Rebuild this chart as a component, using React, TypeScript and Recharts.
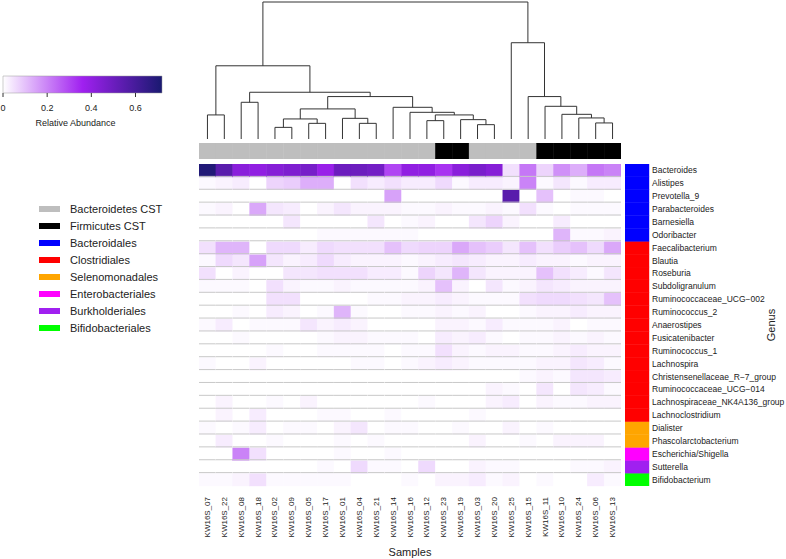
import { Bar, BarChart, Line, LineChart, XAxis, YAxis } from 'recharts';

const samples = [
  'KW16S_07', 'KW16S_22', 'KW16S_08', 'KW16S_18', 'KW16S_02', 'KW16S_09', 'KW16S_05', 'KW16S_17', 'KW16S_01',
  'KW16S_04', 'KW16S_21', 'KW16S_14', 'KW16S_16', 'KW16S_12', 'KW16S_23', 'KW16S_19', 'KW16S_03', 'KW16S_20',
  'KW16S_25', 'KW16S_15', 'KW16S_11', 'KW16S_10', 'KW16S_24', 'KW16S_06', 'KW16S_13',
];

const B = 'Bacteroidetes CST';
const F = 'Firmicutes CST';
const sampleCst = [B, B, B, B, B, B, B, B, B, B, B, B, B, B, F, F, B, B, B, B, F, F, F, F, F];

const genera = [
  'Bacteroides', 'Alistipes', 'Prevotella_9', 'Parabacteroides', 'Barnesiella', 'Odoribacter',
  'Faecalibacterium', 'Blautia', 'Roseburia', 'Subdoligranulum', 'Ruminococcaceae_UCG\u2212002',
  'Ruminococcus_2', 'Anaerostipes', 'Fusicatenibacter', 'Ruminococcus_1', 'Lachnospira',
  'Christensenellaceae_R\u22127_group', 'Ruminococcaceae_UCG\u2212014', 'Lachnospiraceae_NK4A136_group',
  'Lachnoclostridium', 'Dialister', 'Phascolarctobacterium', 'Escherichia/Shigella', 'Sutterella', 'Bifidobacterium',
];

const genusOrder = [
  'Bacteroidales', 'Bacteroidales', 'Bacteroidales', 'Bacteroidales', 'Bacteroidales', 'Bacteroidales',
  'Clostridiales', 'Clostridiales', 'Clostridiales', 'Clostridiales', 'Clostridiales', 'Clostridiales',
  'Clostridiales', 'Clostridiales', 'Clostridiales', 'Clostridiales', 'Clostridiales', 'Clostridiales',
  'Clostridiales', 'Clostridiales', 'Selenomonadales', 'Selenomonadales', 'Enterobacteriales',
  'Burkholderiales', 'Bifidobacteriales',
];

const legendLabels = [
  'Bacteroidetes CST', 'Firmicutes CST', 'Bacteroidales', 'Clostridiales', 'Selenomonadales',
  'Enterobacteriales', 'Burkholderiales', 'Bifidobacteriales',
];
const legendColors = ['#bebebe', '#000000', '#0000ff', '#ff0000', '#ffa500', '#ff00ff', '#a020f0', '#00ff00'];

// relative abundance, one row per genus, columns in sample order
const abundance: number[][] = [
  [0.70, 0.55, 0.42, 0.40, 0.43, 0.45, 0.47, 0.38, 0.50, 0.50, 0.48, 0.30, 0.40, 0.40, 0.33, 0.42, 0.46, 0.43, 0.05, 0.22, 0.07, 0.18, 0.13, 0.22, 0.20],
  [0.01, 0.02, 0.03, 0.00, 0.07, 0.08, 0.13, 0.13, 0.00, 0.05, 0.03, 0.05, 0.03, 0.03, 0.06, 0.01, 0.03, 0.03, 0.02, 0.20, 0.01, 0.04, 0.01, 0.03, 0.03],
  [0.00, 0.00, 0.00, 0.00, 0.00, 0.00, 0.00, 0.00, 0.00, 0.00, 0.00, 0.15, 0.00, 0.00, 0.00, 0.00, 0.00, 0.00, 0.55, 0.00, 0.10, 0.00, 0.01, 0.01, 0.00],
  [0.01, 0.02, 0.00, 0.14, 0.04, 0.03, 0.00, 0.02, 0.04, 0.02, 0.02, 0.02, 0.01, 0.01, 0.02, 0.01, 0.01, 0.02, 0.01, 0.05, 0.01, 0.00, 0.01, 0.01, 0.01],
  [0.00, 0.00, 0.00, 0.00, 0.00, 0.04, 0.00, 0.00, 0.00, 0.00, 0.04, 0.00, 0.01, 0.02, 0.00, 0.00, 0.04, 0.07, 0.02, 0.00, 0.00, 0.03, 0.00, 0.00, 0.00],
  [0.00, 0.00, 0.00, 0.00, 0.00, 0.00, 0.00, 0.01, 0.01, 0.01, 0.01, 0.01, 0.01, 0.00, 0.00, 0.00, 0.00, 0.00, 0.00, 0.00, 0.00, 0.12, 0.01, 0.01, 0.02],
  [0.05, 0.12, 0.12, 0.00, 0.06, 0.06, 0.03, 0.06, 0.05, 0.05, 0.05, 0.10, 0.06, 0.07, 0.07, 0.14, 0.10, 0.08, 0.04, 0.10, 0.05, 0.08, 0.10, 0.06, 0.14],
  [0.01, 0.06, 0.04, 0.15, 0.04, 0.02, 0.03, 0.06, 0.03, 0.02, 0.02, 0.02, 0.01, 0.02, 0.03, 0.04, 0.03, 0.02, 0.02, 0.03, 0.02, 0.02, 0.01, 0.02, 0.02],
  [0.05, 0.00, 0.02, 0.00, 0.00, 0.04, 0.04, 0.05, 0.05, 0.05, 0.03, 0.03, 0.01, 0.07, 0.04, 0.12, 0.04, 0.02, 0.02, 0.02, 0.10, 0.05, 0.03, 0.01, 0.04],
  [0.01, 0.01, 0.01, 0.00, 0.05, 0.02, 0.01, 0.01, 0.02, 0.01, 0.01, 0.01, 0.01, 0.02, 0.10, 0.02, 0.00, 0.04, 0.01, 0.02, 0.04, 0.03, 0.02, 0.02, 0.02],
  [0.00, 0.00, 0.00, 0.00, 0.05, 0.05, 0.00, 0.00, 0.00, 0.00, 0.01, 0.01, 0.02, 0.02, 0.03, 0.02, 0.01, 0.01, 0.01, 0.05, 0.06, 0.06, 0.05, 0.04, 0.10],
  [0.00, 0.00, 0.01, 0.00, 0.03, 0.02, 0.00, 0.01, 0.12, 0.01, 0.00, 0.00, 0.01, 0.01, 0.02, 0.01, 0.02, 0.00, 0.00, 0.01, 0.02, 0.02, 0.03, 0.02, 0.02],
  [0.01, 0.03, 0.00, 0.01, 0.01, 0.01, 0.04, 0.02, 0.03, 0.02, 0.00, 0.00, 0.00, 0.00, 0.02, 0.02, 0.01, 0.03, 0.01, 0.01, 0.01, 0.02, 0.00, 0.01, 0.01],
  [0.00, 0.00, 0.01, 0.00, 0.00, 0.00, 0.00, 0.01, 0.02, 0.02, 0.01, 0.01, 0.01, 0.00, 0.03, 0.02, 0.03, 0.01, 0.00, 0.01, 0.01, 0.02, 0.01, 0.02, 0.01],
  [0.00, 0.00, 0.00, 0.00, 0.01, 0.00, 0.00, 0.01, 0.01, 0.01, 0.01, 0.00, 0.01, 0.01, 0.05, 0.02, 0.01, 0.02, 0.02, 0.01, 0.01, 0.02, 0.03, 0.02, 0.02],
  [0.01, 0.00, 0.00, 0.02, 0.00, 0.00, 0.00, 0.00, 0.00, 0.01, 0.01, 0.00, 0.01, 0.02, 0.03, 0.02, 0.01, 0.01, 0.01, 0.01, 0.02, 0.02, 0.04, 0.03, 0.01],
  [0.00, 0.00, 0.00, 0.00, 0.00, 0.00, 0.00, 0.00, 0.00, 0.00, 0.00, 0.00, 0.00, 0.00, 0.00, 0.00, 0.00, 0.00, 0.00, 0.01, 0.02, 0.01, 0.04, 0.04, 0.03],
  [0.00, 0.00, 0.00, 0.00, 0.00, 0.00, 0.00, 0.00, 0.00, 0.00, 0.00, 0.00, 0.00, 0.00, 0.00, 0.00, 0.00, 0.02, 0.01, 0.00, 0.04, 0.00, 0.04, 0.03, 0.01],
  [0.00, 0.02, 0.00, 0.00, 0.01, 0.00, 0.02, 0.00, 0.00, 0.00, 0.00, 0.00, 0.00, 0.01, 0.00, 0.00, 0.00, 0.02, 0.03, 0.00, 0.02, 0.01, 0.01, 0.02, 0.02],
  [0.00, 0.02, 0.00, 0.03, 0.00, 0.00, 0.00, 0.01, 0.01, 0.00, 0.00, 0.01, 0.00, 0.00, 0.00, 0.00, 0.01, 0.00, 0.00, 0.00, 0.00, 0.00, 0.00, 0.00, 0.00],
  [0.01, 0.00, 0.01, 0.03, 0.00, 0.01, 0.01, 0.00, 0.02, 0.04, 0.00, 0.01, 0.01, 0.00, 0.00, 0.01, 0.00, 0.00, 0.02, 0.00, 0.01, 0.00, 0.00, 0.00, 0.00],
  [0.00, 0.03, 0.00, 0.00, 0.01, 0.00, 0.00, 0.00, 0.01, 0.00, 0.01, 0.00, 0.00, 0.00, 0.00, 0.00, 0.02, 0.00, 0.00, 0.01, 0.00, 0.02, 0.02, 0.02, 0.00],
  [0.00, 0.00, 0.20, 0.05, 0.00, 0.00, 0.00, 0.00, 0.01, 0.00, 0.00, 0.01, 0.00, 0.00, 0.00, 0.00, 0.00, 0.00, 0.00, 0.00, 0.00, 0.00, 0.00, 0.00, 0.00],
  [0.00, 0.00, 0.00, 0.00, 0.00, 0.00, 0.00, 0.01, 0.00, 0.06, 0.01, 0.01, 0.00, 0.06, 0.00, 0.00, 0.02, 0.01, 0.01, 0.00, 0.00, 0.00, 0.01, 0.01, 0.02],
  [0.01, 0.01, 0.02, 0.05, 0.01, 0.01, 0.01, 0.01, 0.01, 0.00, 0.00, 0.00, 0.01, 0.00, 0.02, 0.02, 0.03, 0.01, 0.02, 0.00, 0.01, 0.00, 0.00, 0.03, 0.01],
];

// hclust-style merges: negative = leaf (column), positive = earlier merge (1-based), then height
const merges: [number, number, number][] = [
  [-5, -6, 11.6], [-17, -18, 14.3], [-7, -8, 15.6], [-10, -11, 15.6], [-24, -25, 16],
  [-14, -15, 18.3], [-16, 2, 19.3], [1, 3, 20], [-9, 4, 20.6], [-23, 5, 21],
  [-1, -2, 24], [6, 7, 24], [-22, 10, 24.6], [-13, 12, 26.6], [8, 9, 30],
  [-12, 14, 31.6], [-21, 13, 32.6], [-3, -4, 36.6], [15, 16, 42.3], [-20, 17, 42.3],
  [18, 19, 46.6], [11, 21, 73], [-19, 20, 96], [22, 23, 136.6],
];

const keyMax = 0.72;
const keyTicks = [0, 0.2, 0.4, 0.6];

const W = '#ffffff';
const PURPLE = [160, 32, 240];
const NAVY = [25, 25, 112];

function mix(a: number[], b: number[], t: number) {
  const c = a.map((v, k) => Math.round(v + (b[k] - v) * t));
  return `rgb(${c[0]},${c[1]},${c[2]})`;
}

function heatColor(v: number) {
  const t = Math.max(0, Math.min(1, v / keyMax));
  if (t < 0.5) return mix([255, 255, 255], PURPLE, t / 0.5);
  return mix(PURPLE, NAVY, (t - 0.5) / 0.5);
}

function cstColor(c: string) {
  return legendColors[legendLabels.indexOf(c)];
}

function buildLinks() {
  const pos: { x: number; h: number }[] = [];
  return merges.map(([a, b, h], k) => {
    const node = (ref: number) => (ref < 0 ? { x: -ref - 1, h: 0 } : pos[ref - 1]);
    const l = node(a);
    const r = node(b);
    pos[k] = { x: (l.x + r.x) / 2, h };
    return [
      { x: l.x, h: l.h },
      { x: l.x, h },
      { x: r.x, h },
      { x: r.x, h: r.h },
    ];
  });
}

const font = 'Liberation Sans, Arial, sans-serif';

function HeatCell(props: any) {
  const { x, y, width, height, fill, sep } = props;
  return (
    <g>
      <rect x={x} y={y} width={width} height={height} fill={fill} stroke={fill} strokeWidth={0.4} />
      {sep && <line x1={x} x2={x + width} y1={y + height - 0.5} y2={y + height - 0.5} stroke="#c8c8c8" strokeWidth={1} />}
    </g>
  );
}

function SampleTick(props: any) {
  const { x, y, payload } = props;
  const ty = y + 11;
  return (
    <text x={x} y={ty} transform={`rotate(-90, ${x}, ${ty})`} textAnchor="end" dominantBaseline="central" fontSize={8} fill="#222">
      {payload.value}
    </text>
  );
}

function GenusTick(props: any) {
  const { x, y, payload } = props;
  const name = genera[genera.length - 1 - Math.floor(payload.value)];
  return (
    <text x={x + 3} y={y} dominantBaseline="central" fontSize={8.5} fill="#222">
      {name}
    </text>
  );
}

export default function App() {
  const links = buildLinks();
  const bottomUp = genera.map((_, i) => i).reverse();

  const heatData = samples.map((s, j) => {
    const row: any = { sample: s, cst: sampleCst[j] };
    genera.forEach((_, i) => {
      row[`r${i}`] = 1;
      row[`v${i}`] = abundance[i][j];
    });
    return row;
  });

  const sideRow: any = { k: 'order' };
  genera.forEach((_, i) => (sideRow[`r${i}`] = 1));

  return (
    <div style={{ position: 'absolute', left: 0, top: 0, width: 786, height: 559, background: W, fontFamily: font }}>
      {/* dendrogram */}
      <div style={{ position: 'absolute', left: 199, top: 0 }}>
        <LineChart width={422} height={139} margin={{ top: 2, right: 0, left: 0, bottom: 0 }}>
          <XAxis type="number" dataKey="x" domain={[-0.5, 24.5]} hide />
          <YAxis type="number" domain={[0, 136.6]} hide />
          {links.map((pts, k) => (
            <Line key={k} data={pts} dataKey="h" type="linear" stroke="#333" strokeWidth={1} dot={false} isAnimationActive={false} />
          ))}
        </LineChart>
      </div>

      {/* CST bar */}
      <div style={{ position: 'absolute', left: 199, top: 143 }}>
        <BarChart width={422} height={16} data={heatData} margin={{ top: 0, right: 0, left: 0, bottom: 0 }} barCategoryGap={0}>
          <XAxis dataKey="sample" hide />
          <YAxis type="number" domain={[0, 1]} hide />
          <Bar
            dataKey="r0"
            isAnimationActive={false}
            shape={(p: any) => <HeatCell {...p} fill={cstColor(p.payload.cst)} sep={false} />}
          />
        </BarChart>
      </div>

      {/* heatmap */}
      <div style={{ position: 'absolute', left: 199, top: 164 }}>
        <BarChart width={422} height={395} data={heatData} margin={{ top: 0, right: 0, left: 0, bottom: 0 }} barCategoryGap={0}>
          <XAxis
            dataKey="sample"
            height={73}
            interval={0}
            tickLine={false}
            axisLine={false}
            tickSize={0}
            tickMargin={0}
            tick={<SampleTick />}
            label={{ value: 'Samples', position: 'insideBottom', offset: 3, fontSize: 11, fill: '#222' }}
          />
          <YAxis type="number" domain={[0, genera.length]} hide />
          {bottomUp.map((i) => (
            <Bar
              key={i}
              dataKey={`r${i}`}
              stackId="h"
              isAnimationActive={false}
              shape={(p: any) => <HeatCell {...p} fill={heatColor(p.payload[`v${i}`])} sep={i < genera.length - 1} />}
            />
          ))}
        </BarChart>
      </div>

      {/* order side bar with genus labels */}
      <div style={{ position: 'absolute', left: 625, top: 164 }}>
        <BarChart width={161} height={322} data={[sideRow]} margin={{ top: 0, right: 0, left: 0, bottom: 0 }} barCategoryGap={0}>
          <XAxis dataKey="k" hide />
          <YAxis
            type="number"
            orientation="right"
            domain={[0, genera.length]}
            ticks={genera.map((_, i) => i + 0.5)}
            interval={0}
            width={137}
            axisLine={false}
            tickLine={false}
            tickSize={0}
            tickMargin={0}
            tick={<GenusTick />}
          />
          {bottomUp.map((i) => (
            <Bar
              key={i}
              dataKey={`r${i}`}
              stackId="s"
              isAnimationActive={false}
              shape={(p: any) => <HeatCell {...p} fill={legendColors[legendLabels.indexOf(genusOrder[i])]} sep={false} />}
            />
          ))}
        </BarChart>
      </div>
      <div
        style={{
          position: 'absolute',
          left: 771,
          top: 325,
          transform: 'translate(-50%, -50%) rotate(-90deg)',
          fontSize: 11,
          color: '#222',
          whiteSpace: 'nowrap',
        }}
      >
        Genus
      </div>

      {/* colour key */}
      <div style={{ position: 'absolute', left: 0, top: 70 }}>
        <BarChart
          width={170}
          height={60}
          layout="vertical"
          data={[{ k: 'key', v: keyMax }]}
          margin={{ top: 6, right: 8, left: 3, bottom: 0 }}
          barCategoryGap={0}
        >
          <defs>
            <linearGradient id="keyGrad" x1="0" y1="0" x2="1" y2="0">
              <stop offset="0%" stopColor="#ffffff" />
              <stop offset="50%" stopColor="#a020f0" />
              <stop offset="100%" stopColor="#191970" />
            </linearGradient>
          </defs>
          <XAxis
            type="number"
            domain={[0, keyMax]}
            ticks={keyTicks}
            height={37}
            axisLine={false}
            tickSize={4}
            tickMargin={8}
            tickLine={{ stroke: '#333' }}
            tick={{ fontSize: 9, fill: '#222' }}
            tickFormatter={(v: number) => String(v)}
            label={{ value: 'Relative Abundance', position: 'insideBottom', offset: 4, dx: -7, fontSize: 9, fill: '#222' }}
          />
          <YAxis type="category" dataKey="k" hide />
          <Bar dataKey="v" fill="url(#keyGrad)" stroke="#999" strokeWidth={0.5} isAnimationActive={false} />
        </BarChart>
      </div>

      {/* legend */}
      {legendLabels.map((lab, k) => (
        <div key={lab} style={{ position: 'absolute', left: 39, top: 200 + k * 17, height: 17, display: 'flex', alignItems: 'center' }}>
          <div style={{ width: 21, height: 6, background: legendColors[k] }} />
          <span style={{ marginLeft: 10, fontSize: 11, color: '#222' }}>{lab}</span>
        </div>
      ))}
    </div>
  );
}
